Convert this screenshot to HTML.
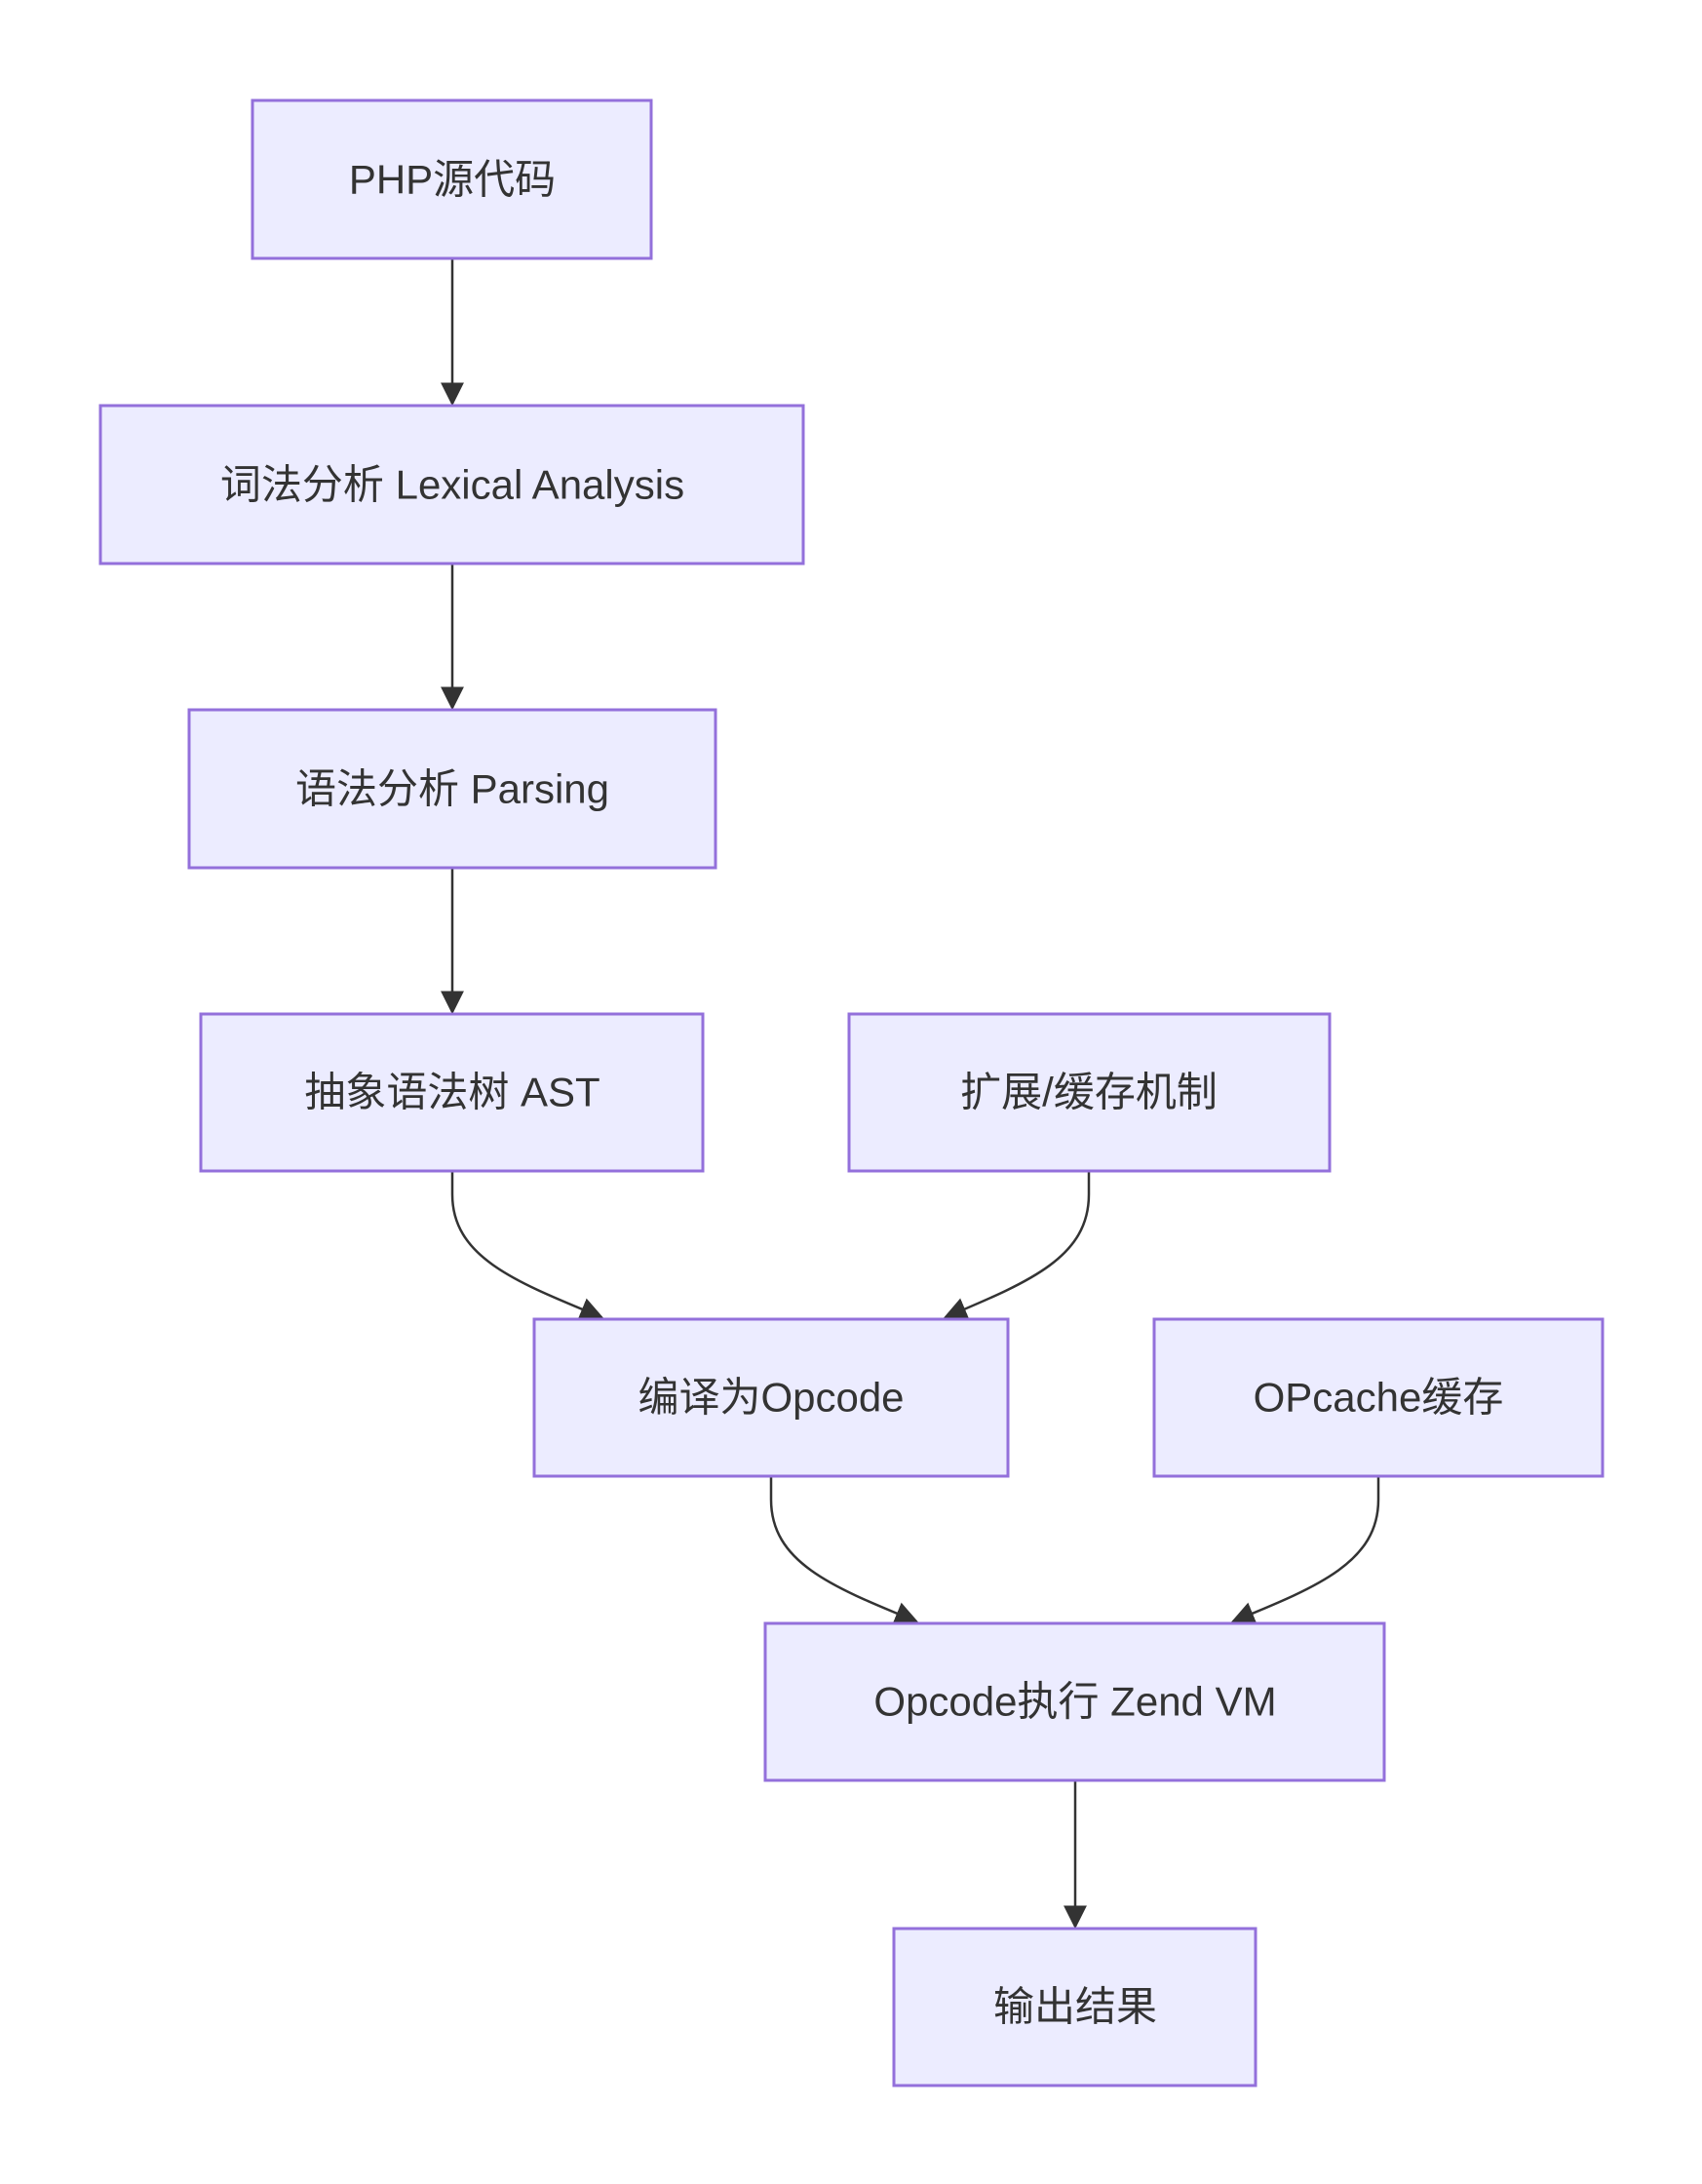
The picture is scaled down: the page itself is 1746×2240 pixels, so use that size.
<!DOCTYPE html>
<html><head><meta charset="utf-8"><style>
html,body{margin:0;padding:0;background:#fff;}
svg{display:block}
text{font-family:"Liberation Sans","Noto Sans CJK SC",sans-serif;font-size:42px;fill:#333;text-anchor:middle;dominant-baseline:central}
rect{fill:#ECECFF;stroke:#9370DB;stroke-width:3}
path.e{fill:none;stroke:#333;stroke-width:2.5}
</style></head><body>
<svg width="1746" height="2240" viewBox="0 0 1746 2240" xmlns="http://www.w3.org/2000/svg">
<defs><marker id="a" viewBox="0 0 10 10" refX="9" refY="5" markerWidth="9" markerHeight="9" markerUnits="userSpaceOnUse" orient="auto"><path d="M0,0L10,5L0,10z" fill="#333" transform="scale(1)"/></marker>
<marker id="b" viewBox="0 0 10 10" refX="9" refY="5" markerWidth="24" markerHeight="24" markerUnits="userSpaceOnUse" orient="auto"><path d="M0,0L10,5L0,10z" fill="#333"/></marker></defs>
<path class="e" d="M464,265 L464,414" marker-end="url(#b)"/>
<path class="e" d="M464,578 L464,726" marker-end="url(#b)"/>
<path class="e" d="M464,890 L464,1038" marker-end="url(#b)"/>
<path class="e" d="M464,1201 L464,1225 C464,1290 530,1315 617,1351" marker-end="url(#b)"/>
<path class="e" d="M1117,1201 L1117,1225 C1117,1290 1055,1315 970,1351" marker-end="url(#b)"/>
<path class="e" d="M791,1514 L791,1538 C791,1603 855,1628 940,1663" marker-end="url(#b)"/>
<path class="e" d="M1414,1514 L1414,1538 C1414,1603 1350,1628 1265,1663" marker-end="url(#b)"/>
<path class="e" d="M1103,1826 L1103,1976" marker-end="url(#b)"/>
<rect x="259" y="103" width="409" height="162"/><text x="464" y="184">PHP源代码</text>
<rect x="103" y="416" width="721" height="162"/><text x="464" y="497">词法分析 Lexical Analysis</text>
<rect x="194" y="728" width="540" height="162"/><text x="464" y="809">语法分析 Parsing</text>
<rect x="206" y="1040" width="515" height="161"/><text x="464" y="1120">抽象语法树 AST</text>
<rect x="871" y="1040" width="493" height="161"/><text x="1117" y="1120">扩展/缓存机制</text>
<rect x="548" y="1353" width="486" height="161"/><text x="791" y="1433">编译为Opcode</text>
<rect x="1184" y="1353" width="460" height="161"/><text x="1414" y="1433">OPcache缓存</text>
<rect x="785" y="1665" width="635" height="161"/><text x="1103" y="1745">Opcode执行 Zend VM</text>
<rect x="917" y="1978" width="371" height="161"/><text x="1103" y="2058">输出结果</text>
</svg>
</body></html>
